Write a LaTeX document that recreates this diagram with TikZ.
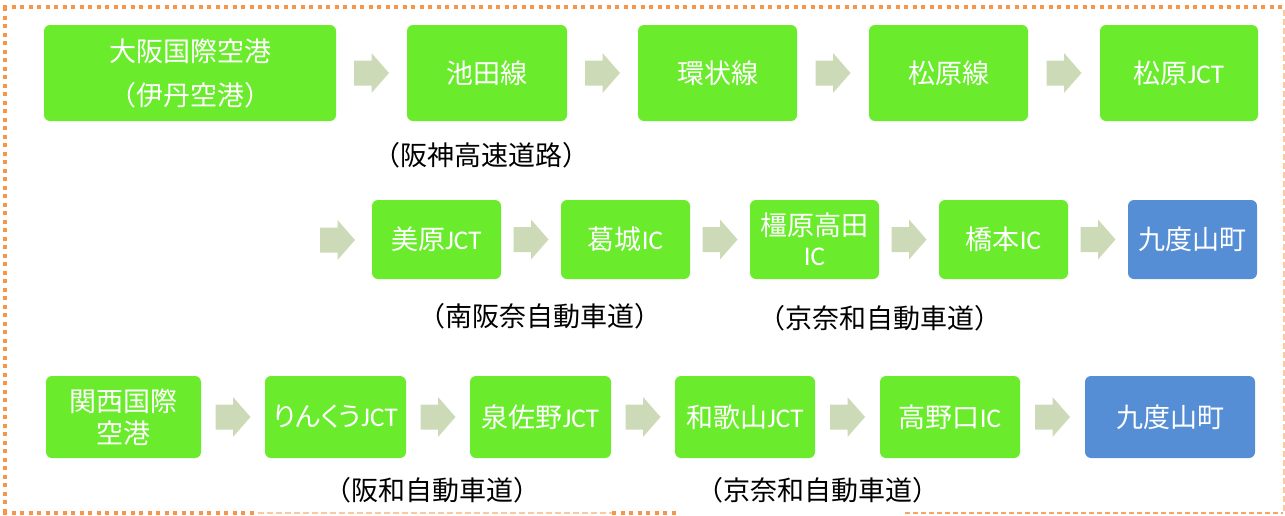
\documentclass[tikz,border=0pt]{standalone}
\usepackage{fontspec}
\setmainfont{Noto Sans CJK JP}
\newfontfamily\lat{Carlito}
\newfontfamily\propkana[RawFeature=+palt]{Noto Sans CJK JP}
\usetikzlibrary{calc}
\definecolor{boxgreen}{RGB}{106,236,45}
\definecolor{boxblue}{RGB}{85,142,213}
\definecolor{arrowc}{RGB}{205,218,183}
\definecolor{borderdark}{RGB}{247,150,70}
\definecolor{borderlight}{RGB}{251,200,160}
\definecolor{bordermid}{RGB}{248,165,100}
\begin{document}
\begin{tikzpicture}[x=1pt,y=-1pt,
  box/.style={rounded corners=6pt, fill=boxgreen, draw=none, text=white,
    font=\fontsize{27}{32}\selectfont, align=center, inner sep=0pt},
  bluebox/.style={box, fill=boxblue},
  lbl/.style={font=\fontsize{27}{32}\selectfont, text=black, inner sep=0pt},
  thickdot/.style={draw=borderdark, line width=3.5pt, dash pattern=on 4pt off 4.5pt},
  thindash/.style={draw=borderlight, line width=1.5pt, dash pattern=on 6pt off 3pt},
  middash/.style={draw=bordermid, line width=2.5pt, dash pattern=on 5pt off 3pt},
  barrow/.pic={\fill[arrowc] (-17.5,-12.5) -- (0,-12.5) -- (0,-20) -- (17.5,0) -- (0,20) -- (0,12.5) -- (-17.5,12.5) -- cycle;}]
\useasboundingbox (0,0) rectangle (1285,515);
% border
\draw[thickdot] (3,7) -- (1283,7);
\draw[thickdot] (5,7) -- (5,513);
\draw[thindash] (1284,10) -- (1284,513);
\draw[thickdot] (3,513) -- (258,513);
\draw[thindash] (258,513) -- (612,513);
\draw[thickdot] (612,513) -- (676,513);
\draw[middash] (905,513) -- (1283,513);
% row 1
\node[box, minimum width=292pt, minimum height=96pt] (a1) at (190,73) {大阪国際空港\\[12pt]（伊丹空港）};
\node[box, minimum width=160pt, minimum height=96pt] (a2) at (487,73) {池田線};
\node[box, minimum width=159pt, minimum height=96pt] (a3) at (717.5,73) {環状線};
\node[box, minimum width=159pt, minimum height=96pt] (a4) at (948.5,73) {松原線};
\node[box, minimum width=158pt, minimum height=96pt] (a5) at (1179,73) {松原{\lat JCT}};
\pic at ($(a1.east)!0.5!(a2.west)$) {barrow};
\pic at ($(a2.east)!0.5!(a3.west)$) {barrow};
\pic at ($(a3.east)!0.5!(a4.west)$) {barrow};
\pic at ($(a4.east)!0.5!(a5.west)$) {barrow};
\node[lbl] (l1) at (481,155) {（阪神高速道路）};
% row 2
\coordinate (b0) at (337.5,240);
\node[box, minimum width=129pt, minimum height=79pt] (b1) at (436.5,239.5) {美原{\lat JCT}};
\node[box, minimum width=129pt, minimum height=79pt] (b2) at (625.5,239.5) {葛城{\lat IC}};
\node[box, minimum width=129pt, minimum height=79pt] (b3) at (814.5,239.5) {橿原高田\\[-2pt]{\lat IC}};
\node[box, minimum width=129pt, minimum height=79pt] (b4) at (1003.5,239.5) {橋本{\lat IC}};
\node[bluebox, minimum width=129pt, minimum height=79pt] (b5) at (1192.5,239.5) {九度山町};
\pic at (b0) {barrow};
\pic at ($(b1.east)!0.5!(b2.west)$) {barrow};
\pic at ($(b2.east)!0.5!(b3.west)$) {barrow};
\pic at ($(b3.east)!0.5!(b4.west)$) {barrow};
\pic at ($(b4.east)!0.5!(b5.west)$) {barrow};
\node[lbl] (l2) at (540,316) {（南阪奈自動車道）};
\node[lbl] (l3) at (880,318) {（京奈和自動車道）};
% row 3
\node[box, minimum width=155pt, minimum height=82pt] (c1) at (123.5,417) {関西国際\\[0pt]空港};
\node[box, minimum width=141pt, minimum height=82pt] (c2) at (335.5,417) {{\propkana りんくう}{\lat JCT}};
\node[box, minimum width=141pt, minimum height=82pt] (c3) at (540.5,417) {泉佐野{\lat JCT}};
\node[box, minimum width=140pt, minimum height=82pt] (c4) at (745,417) {和歌山{\lat JCT}};
\node[box, minimum width=140pt, minimum height=82pt] (c5) at (950,417) {高野口{\lat IC}};
\node[bluebox, minimum width=170pt, minimum height=82pt] (c6) at (1170,417) {九度山町};
\pic at ($(c1.east)!0.5!(c2.west)$) {barrow};
\pic at ($(c2.east)!0.5!(c3.west)$) {barrow};
\pic at ($(c3.east)!0.5!(c4.west)$) {barrow};
\pic at ($(c4.east)!0.5!(c5.west)$) {barrow};
\pic at ($(c5.east)!0.5!(c6.west)$) {barrow};
\node[lbl] (l4) at (432,490) {（阪和自動車道）};
\node[lbl] (l5) at (818,490) {（京奈和自動車道）};
\end{tikzpicture}
\end{document}
